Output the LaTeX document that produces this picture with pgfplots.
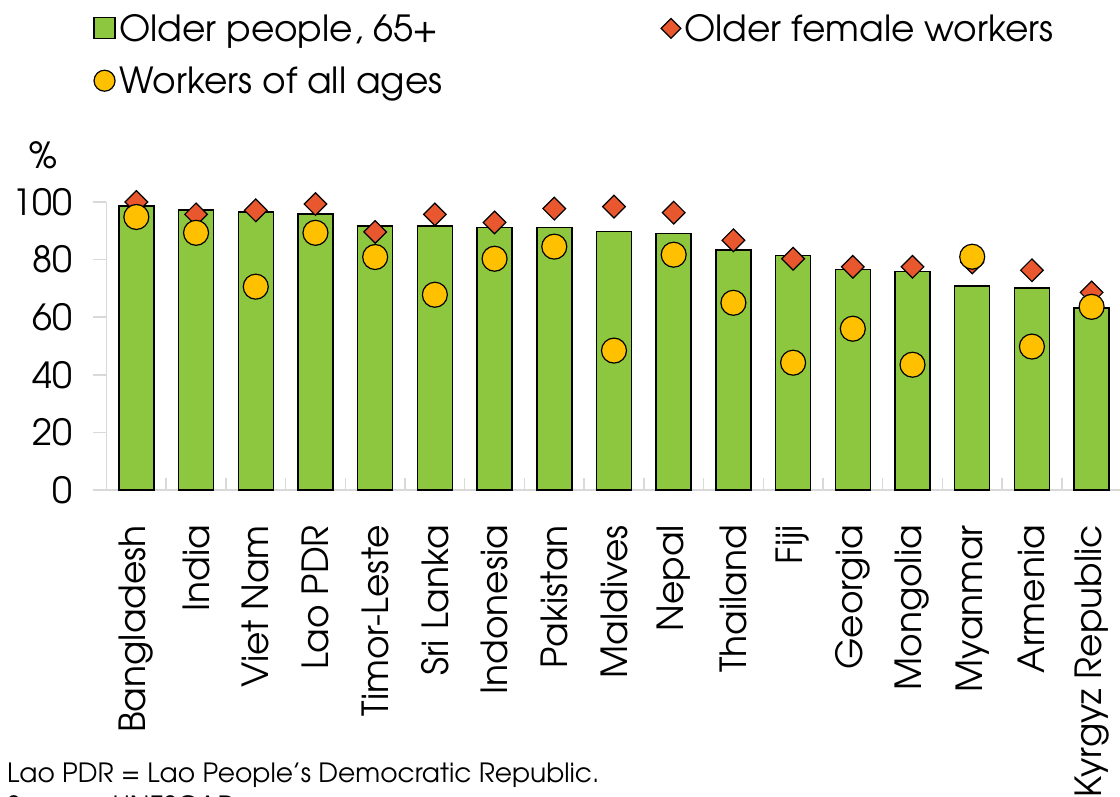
\documentclass[border=0pt]{standalone}
\usepackage{fontspec}
\setmainfont{TeX Gyre Adventor}
\usepackage{pgfplots}
\usepackage{pgfplotstable}
\pgfplotsset{compat=1.18}

\definecolor{barGreen}{RGB}{141,198,63}
\definecolor{femRed}{RGB}{232,87,46}
\definecolor{allYellow}{RGB}{255,192,0}
\definecolor{axisGray}{RGB}{217,217,217}

% idx: country position; older: older people 65+; female: older female workers; all: workers of all ages
\pgfplotstableread{
idx older female all
0  98.6 100.0 94.8
1  97.2  95.7 89.3
2  96.6  97.1 70.6
3  95.9  99.3 89.3
4  91.7  89.6 80.9
5  91.7  95.7 67.8
6  91.1  92.9 80.3
7  91.1  97.7 84.5
8  89.7  98.4 48.4
9  89.0  96.3 81.7
10 83.4  86.7 65.0
11 81.4  80.3 44.2
12 76.5  77.5 56.0
13 75.8  77.5 43.5
14 70.9  79.0 81.0
15 70.2  76.3 49.8
16 63.2  68.6 63.6
}\datatable

\pgfplotsset{
  squarelegend/.style={legend image code/.code={\draw[##1, line width=1.2pt] (0pt,-10.5pt) rectangle (21pt,10.5pt);}},
  diamondlegend/.style={legend image code/.code={\draw[##1, mark size=7pt] plot coordinates {(10pt,0pt)};}},
  circlelegend/.style={legend image code/.code={\draw[##1, mark size=10.5pt] plot coordinates {(10.5pt,0pt)};}},
}

\begin{document}
\begin{tikzpicture}[x=1pt,y=1pt]
\useasboundingbox (0,0) rectangle (1120,797);
\begin{axis}[
  at={(106.5pt,307pt)}, anchor=south west,
  scale only axis, width=1015pt, height=288pt,
  xmin=-0.5, xmax=16.5, ymin=0, ymax=100,
  axis x line*=bottom, axis y line*=left,
  axis line style={draw=axisGray, line width=1.5pt},
  tick align=outside,
  major tick length=13pt, minor tick length=12pt,
  tick style={draw=axisGray, line width=1.5pt},
  xtick={0,...,16},
  xticklabels={Bangladesh,India,Viet Nam,Lao PDR,Timor-Leste,Sri Lanka,Indonesia,Pakistan,Maldives,Nepal,Thailand,Fiji,Georgia,Mongolia,Myanmar,Armenia,Kyrgyz Republic},
  major x tick style={draw=none},
  minor x tick num=1,
  minor x tick style={draw=axisGray, line width=1.5pt, yshift=12pt},
  x tick label style={rotate=90, anchor=east, inner sep=0pt, font=\fontsize{36}{42}\selectfont},
  xticklabel shift=22pt,
  ytick={0,20,...,100},
  y tick label style={inner sep=0pt, xshift=-21pt, font=\fontsize{36}{42}\selectfont},
  /pgf/number format/assume math mode=true,
  legend columns=2,
  legend cell align=left,
  legend style={at={(-0.016,1.667)}, anchor=north west, draw=none, fill=none,
    font=\fontsize{36}{42}\selectfont,
    nodes={inner xsep=3.5pt, inner ysep=2pt},
    /tikz/column 2/.style={column sep=215pt},
    row sep=20pt},
  clip=false,
]
\addplot[ybar, bar width=35pt, bar shift=0pt, fill=barGreen, draw=black, line width=1.5pt, squarelegend]
  table[x=idx, y=older] {\datatable};
\addlegendentry{Older people, 65+}
\addplot[only marks, mark=square*, mark size=8pt,
  mark options={rotate=45, fill=femRed, draw=black, line width=1.2pt}, diamondlegend]
  table[x=idx, y=female] {\datatable};
\addlegendentry{Older female workers}
\addplot[only marks, mark=*, mark size=12.5pt,
  mark options={fill=allYellow, draw=black, line width=1.2pt}, circlelegend]
  table[x=idx, y=all] {\datatable};
\addlegendentry{Workers of all ages}
\end{axis}
\node[font=\fontsize{36}{42}\selectfont] at (43,642) {\%};
\node[anchor=base west, inner sep=0pt, font=\fontsize{26.5}{32}\selectfont] at (7,14) {Lao PDR = Lao People’s Democratic Republic.};
\node[anchor=base west, inner sep=0pt, font=\fontsize{26.5}{32}\selectfont] at (7,-19) {Source: UNESCAP.};
\end{tikzpicture}
\end{document}
